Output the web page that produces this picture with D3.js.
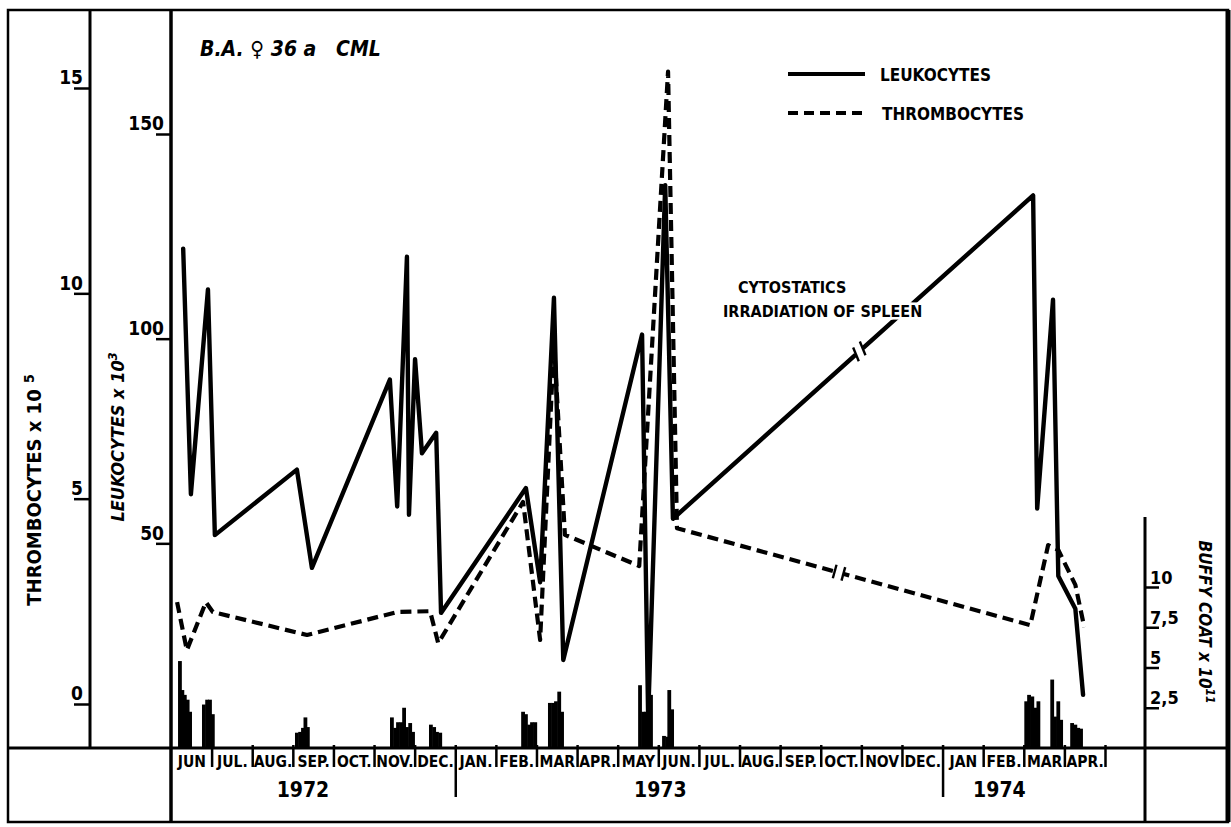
<!DOCTYPE html>
<html lang="en">
<head>
<meta charset="UTF-8">
<title>B.A. CML</title>
<script src="https://d3js.org/d3.v7.min.js"></script>
<style>
  body { margin: 0; background: #fff; }
  svg text { font-family: "Liberation Sans Narrow", "DejaVu Sans Condensed", sans-serif; font-weight: bold; fill: #000; }
</style>
</head>
<body>
<svg id="chart"></svg>
<script>
// month labels, Jun 1972 .. Apr 1974 (index 0 = June 1972)
const months = ["JUN","JUL.","AUG.","SEP.","OCT.","NOV.","DEC.","JAN.","FEB.","MAR","APR.","MAY",
                "JUN.","JUL.","AUG.","SEP.","OCT.","NOV","DEC.","JAN","FEB.","MAR","APR."];
const years = ["1972", "1973", "1974"];
const yearPos = [3.25, 12.05, 20.4];
const yearBreaks = [7, 19];

// leukocytes x 10^3 (time in months since 1 June 1972)
const leukoMonth = [0.30, 0.49, 0.91, 1.08, 3.10, 3.47, 5.39, 5.57, 5.81, 5.86, 6.01, 6.18, 6.53, 6.65,
                    8.74, 9.09, 9.43, 9.66, 11.60, 11.75, 12.17, 12.36, 21.23, 21.33, 21.72, 21.85, 22.27, 22.46];
const leukoValue = [122, 62, 112, 52, 68, 44, 90, 59, 120, 57, 95, 72, 77, 33,
                    63.5, 40.5, 110, 21.5, 101, 7.5, 137.5, 56, 135, 58.5, 109.5, 42, 34, 13];

// thrombocytes x 10^5
const thromboMonth = [0.15, 0.39, 0.86, 1.03, 3.35, 5.57, 6.38, 6.58, 8.67, 9.09, 9.43, 9.70,
                      11.53, 12.24, 12.46, 21.16, 21.60, 21.85, 22.27, 22.49];
const thromboValue = [2.48, 1.31, 2.48, 2.24, 1.68, 2.24, 2.26, 1.48, 4.92, 1.56, 8.8, 4.12,
                      3.36, 15.4, 4.28, 1.92, 3.87, 3.75, 2.9, 1.87];

// buffy coat x 10^11
const buffyMonth = [0.22, 0.28, 0.34, 0.41, 0.47, 0.81, 0.89, 0.96, 1.03,
                    3.10, 3.18, 3.25, 3.31, 3.37,
                    5.44, 5.52, 5.59, 5.67, 5.74, 5.81, 5.89, 5.96,
                    6.40, 6.48, 6.55, 6.63,
                    8.67, 8.74, 8.82, 8.89, 8.97,
                    9.33, 9.41, 9.48, 9.56, 9.63,
                    11.55, 11.63, 11.70, 11.77, 11.82,
                    12.14, 12.22, 12.27, 12.34,
                    21.06, 21.13, 21.21, 21.28, 21.36,
                    21.70, 21.77, 21.85, 21.92,
                    22.19, 22.27, 22.34, 22.41];
const buffyValue = [5.4, 3.6, 3.3, 3.0, 2.25, 2.7, 3.0, 3.0, 2.1,
                    0.95, 1.0, 1.25, 1.9, 1.3,
                    1.9, 1.25, 1.6, 1.6, 2.5, 1.3, 1.55, 1.0,
                    1.45, 1.3, 1.0, 0.95,
                    2.25, 2.1, 1.45, 1.6, 1.6,
                    2.8, 2.8, 2.9, 3.5, 2.25,
                    3.9, 2.25, 2.25, 2.25, 3.3,
                    0.75, 0.7, 3.6, 2.4,
                    2.9, 3.3, 3.2, 2.5, 2.9,
                    4.25, 1.95, 2.9, 1.75,
                    1.55, 1.45, 1.25, 1.2];

const thromboTicks = [0, 5, 10, 15];
const leukoTicks = [50, 100, 150];
const buffyTicks = [2.5, 5, 7.5, 10];

// breaks drawn on the long 1973/74 segments
const leukoBreak = 16.95;
const thromboBreak = 16.45;

const width = 1231, height = 827;
const L = 8, R = 1228, T = 10, B = 822, base = 748;
const axT = 90, axL = 171, axB = 1145;

const svg = d3.select("#chart").attr("width", width).attr("height", height);

const x = d3.scaleLinear().domain([0, 23]).range([171, 1105]);
const yL = d3.scaleLinear().domain([0, 150]).range([base, 134]);
const yT = d3.scaleLinear().domain([0, 15]).range([704, 88]);
const yB = d3.scaleLinear().domain([0, 10]).range([base, 587]);

// frame
svg.append("rect")
    .attr("x", L).attr("y", T).attr("width", R - L).attr("height", B - T)
    .attr("fill", "none").attr("stroke", "#000").attr("stroke-width", 2.5);
svg.append("line").attr("x1", R).attr("x2", R).attr("y1", T).attr("y2", B)
    .attr("stroke", "#000").attr("stroke-width", 5);
svg.append("line").attr("x1", L).attr("x2", R).attr("y1", base).attr("y2", base)
    .attr("stroke", "#000").attr("stroke-width", 3);
svg.append("line").attr("x1", axT).attr("x2", axT).attr("y1", T).attr("y2", base)
    .attr("stroke", "#000").attr("stroke-width", 3);
svg.append("line").attr("x1", axL).attr("x2", axL).attr("y1", T).attr("y2", B)
    .attr("stroke", "#000").attr("stroke-width", 3.5);
svg.append("line").attr("x1", axB).attr("x2", axB).attr("y1", 517).attr("y2", B)
    .attr("stroke", "#000").attr("stroke-width", 3);

// y axes
function styleAxis(g, anchor, dx, size) {
    g.select(".domain").remove();
    g.selectAll("line").attr("stroke-width", 2.5);
    g.selectAll("text")
        .attr("x", dx).attr("dy", "-0.22em")
        .attr("text-anchor", anchor)
        .style("font-size", size + "px");
}

svg.append("g").attr("transform", `translate(${axT},0)`)
    .call(d3.axisLeft(yT).tickValues(thromboTicks).tickSize(16).tickFormat(d3.format("d")))
    .call(g => styleAxis(g, "end", -7, 19));

svg.append("g").attr("transform", `translate(${axL},0)`)
    .call(d3.axisLeft(yL).tickValues(leukoTicks).tickSize(15).tickFormat(d3.format("d")))
    .call(g => styleAxis(g, "end", -7, 19));

svg.append("g").attr("transform", `translate(${axB},0)`)
    .call(d3.axisRight(yB).tickValues(buffyTicks).tickSize(14).tickFormat(d => String(d).replace(".", ",")))
    .call(g => styleAxis(g, "start", 5, 18));

// month separators and labels
const sepG = svg.append("g").attr("transform", `translate(0,${base - 3})`)
    .call(d3.axisBottom(x).tickValues(d3.range(1, 24).filter(m => !yearBreaks.includes(m)))
        .tickSize(22).tickFormat(""));
sepG.select(".domain").remove();
sepG.selectAll("line").attr("stroke-width", 2.5);

const yrG = svg.append("g").attr("transform", `translate(0,${base - 3})`)
    .call(d3.axisBottom(x).tickValues(yearBreaks).tickSize(52).tickFormat(""));
yrG.select(".domain").remove();
yrG.selectAll("line").attr("stroke-width", 2.5);

const monG = svg.append("g").attr("transform", `translate(0,${base})`)
    .call(d3.axisBottom(x).tickValues(months.map((m, i) => i + 0.5)).tickSize(0)
        .tickFormat((d, i) => months[i]));
monG.select(".domain").remove();
monG.selectAll("text").attr("dy", 0).attr("y", 19).style("font-size", "15.5px");

svg.append("g").selectAll("text").data(years).join("text")
    .attr("x", (d, i) => x(yearPos[i])).attr("y", 797)
    .attr("text-anchor", "middle").style("font-size", "21px")
    .text(d => d);

// buffy coat bars
svg.append("g").selectAll("rect").data(buffyMonth).join("rect")
    .attr("x", d => x(d) - 1.9).attr("width", 3.8)
    .attr("y", (d, i) => yB(buffyValue[i]))
    .attr("height", (d, i) => yB(0) - yB(buffyValue[i]))
    .attr("fill", "#000");

// lines
const leukoData = leukoMonth.map((m, i) => [m, leukoValue[i]]);
const thromboData = thromboMonth.map((m, i) => [m, thromboValue[i]]);

svg.append("path").datum(thromboData)
    .attr("fill", "none").attr("stroke", "#000").attr("stroke-width", 4.2)
    .attr("stroke-dasharray", "11,6").attr("stroke-linejoin", "round")
    .attr("d", d3.line().x(d => x(d[0])).y(d => yT(d[1])));

svg.append("path").datum(leukoData)
    .attr("fill", "none").attr("stroke", "#000").attr("stroke-width", 4.4)
    .attr("stroke-linejoin", "round").attr("stroke-linecap", "round")
    .attr("d", d3.line().x(d => x(d[0])).y(d => yL(d[1])));

// break marks
function breakMark(data, ys, m, slant) {
    const j = data.findIndex(d => d[0] > m);
    const a = data[j - 1], b = data[j];
    const t = (m - a[0]) / (b[0] - a[0]);
    const v = a[1] + t * (b[1] - a[1]);
    const px = x(m), py = ys(v);
    const ang = Math.atan2(ys(b[1]) - ys(a[1]), x(b[0]) - x(a[0]));
    const g = svg.append("g").attr("transform", `translate(${px},${py}) rotate(${ang * 180 / Math.PI})`);
    g.append("rect").attr("x", -5).attr("y", -5).attr("width", 10).attr("height", 10).attr("fill", "#fff");
    [-4.5, 4.5].forEach(dx => {
        g.append("line")
            .attr("x1", dx - slant).attr("x2", dx + slant).attr("y1", 7).attr("y2", -7)
            .attr("stroke", "#000").attr("stroke-width", 2.4);
    });
}
breakMark(leukoData, yL, leukoBreak, 2.5);
breakMark(thromboData, yT, thromboBreak, 0);

// annotation (white halo cuts the line as in the original)
const ann = svg.append("g").style("font-size", "16px");
ann.append("text").attr("x", 738).attr("y", 293).text("CYTOSTATICS")
    .attr("stroke", "#fff").attr("stroke-width", 5).attr("paint-order", "stroke");
ann.append("text").attr("x", 723).attr("y", 317).text("IRRADIATION OF SPLEEN")
    .attr("stroke", "#fff").attr("stroke-width", 5).attr("paint-order", "stroke");

// legend
svg.append("line").attr("x1", 788).attr("x2", 865).attr("y1", 74).attr("y2", 74)
    .attr("stroke", "#000").attr("stroke-width", 4);
svg.append("line").attr("x1", 788).attr("x2", 866).attr("y1", 113).attr("y2", 113)
    .attr("stroke", "#000").attr("stroke-width", 4).attr("stroke-dasharray", "10,6");
svg.append("text").attr("x", 880).attr("y", 81).style("font-size", "17px").text("LEUKOCYTES");
svg.append("text").attr("x", 882).attr("y", 120).style("font-size", "17px").text("THROMBOCYTES");

// title
svg.append("text").attr("x", 200).attr("y", 56)
    .style("font-size", "21px").style("font-style", "italic").style("white-space", "pre")
    .text("B.A. \u2640 36 a   CML");

// axis titles
function axisTitle(tx, ty, rot, label, sup, italic, size) {
    const t = svg.append("text")
        .attr("transform", `translate(${tx},${ty}) rotate(${rot})`)
        .attr("text-anchor", "middle")
        .style("font-size", size + "px")
        .style("font-style", italic ? "italic" : "normal");
    t.append("tspan").text(label);
    t.append("tspan").attr("dy", -7).style("font-size", (size * 0.7) + "px").text(sup);
}
axisTitle(41, 490, -90, "THROMBOCYTES x 10 ", "5", false, 20);
axisTitle(124, 437, -90, "LEUKOCYTES x 10", "3", true, 18);
axisTitle(1199, 622, 90, "BUFFY COAT x 10", "11", true, 17);
</script>
</body>
</html>
